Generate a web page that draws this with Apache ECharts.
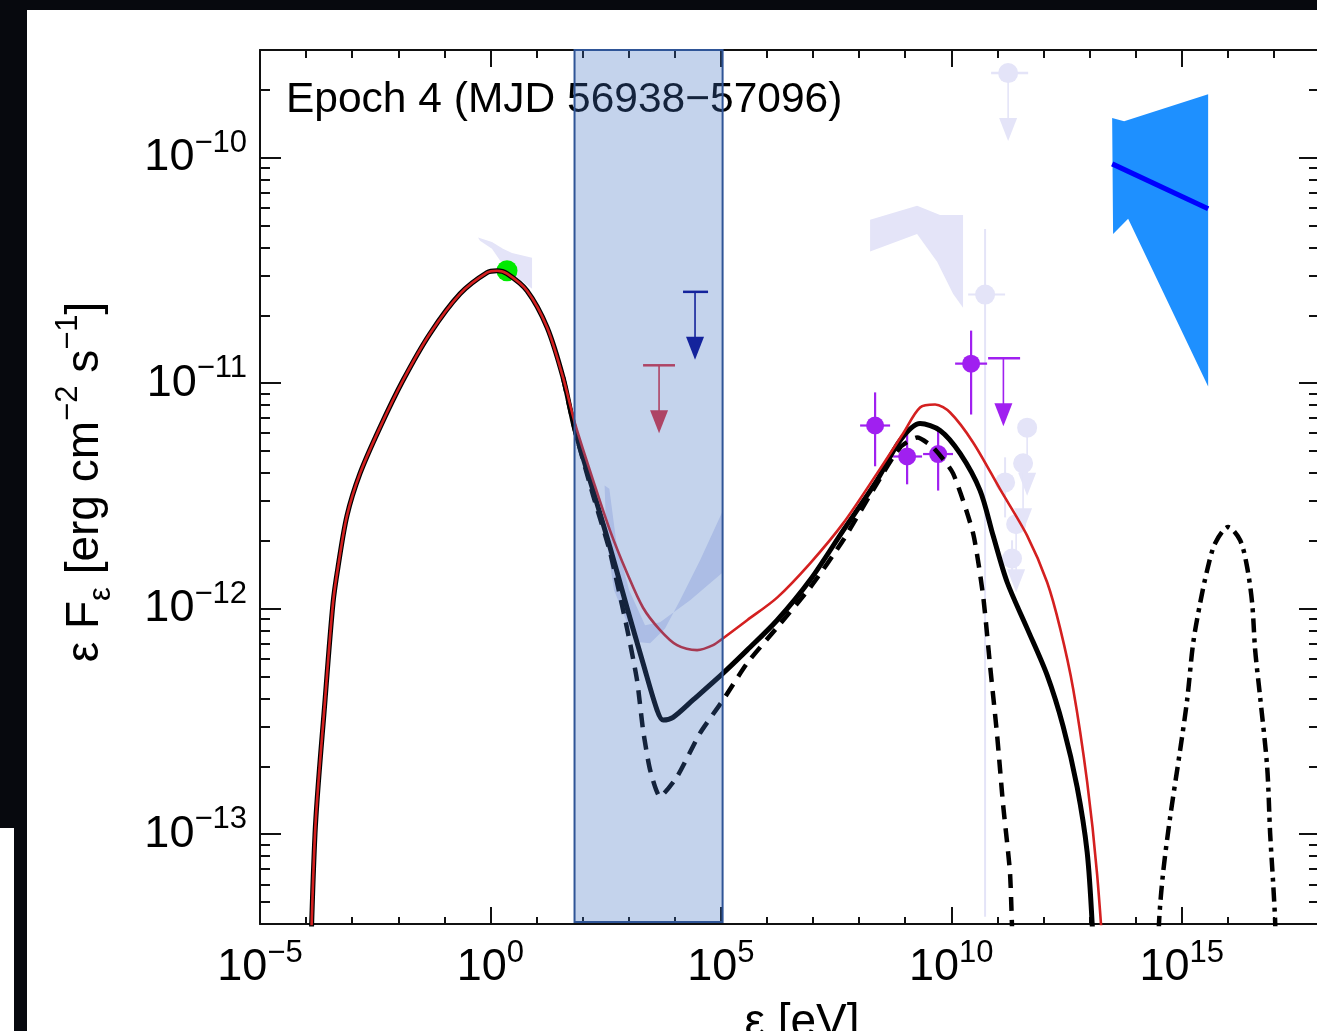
<!DOCTYPE html>
<html>
<head>
<meta charset="utf-8">
<style>
  html, body { margin: 0; padding: 0; background: #fff; }
  #chart { width: 1317px; height: 1031px; }
</style>
<script src="https://cdn.jsdelivr.net/npm/echarts@6/dist/echarts.min.js"></script>
</head>
<body>
<div id="chart"></div>
<script>
var FONT = "'Liberation Sans', Arial, Helvetica, sans-serif";

// energy [eV], flux [erg cm^-2 s^-1]
var solidModel = [
  [1.10e-4, 1.0e-14], [1.56e-4, 1.0e-13], [2.58e-4, 3.94e-13], [3.84e-4, 1.06e-12],
  [4.93e-4, 1.53e-12], [7.73e-4, 2.59e-12], [1.48e-3, 3.98e-12], [4.02e-3, 6.37e-12],
  [1.27e-2, 1.03e-11], [4.89e-2, 1.66e-11], [0.219, 2.49e-11], [0.843, 3.09e-11],
  [1.39, 3.15e-11], [2.29, 3.06e-11], [6.22, 2.57e-11], [16.9, 1.77e-11],
  [37.6, 1.06e-11], [68.5, 6.17e-12], [169, 3.34e-12], [394, 1.87e-12],
  [920, 1.01e-12], [2050, 5.73e-13], [4130, 3.55e-13], [5570, 3.21e-13],
  [9180, 3.30e-13], [2.49e4, 3.94e-13], [1.12e5, 5.18e-13], [3.71e5, 6.55e-13],
  [1.66e6, 8.89e-13], [8.63e6, 1.34e-12], [4.49e7, 2.22e-12], [2.45e8, 3.71e-12],
  [7.74e8, 5.57e-12], [2.10e9, 6.62e-12], [5.71e9, 6.17e-12], [1.55e10, 4.88e-12],
  [4.22e10, 3.34e-12], [8.07e10, 2.11e-12], [1.63e11, 1.31e-12], [4.42e11, 8.18e-13],
  [1.20e12, 5.07e-13], [2.67e12, 3.01e-13], [5.37e12, 1.62e-13], [8.85e12, 8.36e-14],
  [1.14e13, 4.0e-14], [1.32e13, 1.85e-14]
];
var redModel = [
  [1.10e-4, 1.0e-14], [1.56e-4, 1.0e-13], [2.58e-4, 3.94e-13], [3.84e-4, 1.06e-12],
  [4.93e-4, 1.53e-12], [7.73e-4, 2.59e-12], [1.48e-3, 3.98e-12], [4.02e-3, 6.37e-12],
  [1.27e-2, 1.03e-11], [4.89e-2, 1.66e-11], [0.219, 2.49e-11], [0.843, 3.09e-11],
  [1.39, 3.15e-11], [2.29, 3.06e-11], [6.22, 2.57e-11], [16.9, 1.77e-11],
  [37.6, 1.06e-11], [68.5, 6.62e-12], [169, 3.71e-12], [394, 2.22e-12],
  [920, 1.44e-12], [2050, 1.01e-12], [4800, 8.04e-13], [1.12e4, 6.89e-13],
  [3.05e4, 6.55e-13], [6.78e4, 6.89e-13], [1.12e5, 7.40e-13], [3.71e5, 8.89e-13],
  [1.66e6, 1.12e-12], [8.63e6, 1.59e-12], [4.49e7, 2.39e-12], [2.45e8, 3.98e-12],
  [9.0e8, 5.98e-12], [2.10e9, 7.80e-12], [4.45e9, 8.04e-12], [9.42e9, 7.41e-12],
  [2.97e10, 5.46e-12], [1.15e11, 3.38e-12], [4.42e11, 2.11e-12], [1.20e12, 1.31e-12],
  [2.30e12, 8.18e-13], [4.40e12, 4.42e-13], [8.85e12, 1.71e-13], [1.46e13, 6.62e-14],
  [2.29e13, 1.85e-14]
];
var dashedModel = [
  [37.6, 1.06e-11], [68.5, 6.17e-12], [169, 3.18e-12], [394, 1.78e-12],
  [920, 8.18e-13], [1517, 4.82e-13], [2050, 2.90e-13], [2911, 1.93e-13],
  [4800, 1.47e-13], [1.12e4, 1.80e-13], [3.54e4, 2.81e-13], [1.12e5, 3.94e-13],
  [3.71e5, 5.73e-13], [1.66e6, 8.26e-13], [8.63e6, 1.24e-12], [4.49e7, 2.01e-12],
  [2.45e8, 3.60e-12], [7.74e8, 5.19e-12], [1.81e9, 5.74e-12], [4.03e9, 5.19e-12],
  [1.09e10, 3.98e-12], [2.97e10, 2.16e-12], [4.90e10, 1.14e-12], [6.95e10, 5.57e-13],
  [9.86e10, 2.75e-13], [1.33e11, 1.35e-13], [1.89e11, 6.61e-14], [2.29e11, 1.85e-14]
];
var dashDotModel = [
  [3.08e14, 2.78e-14], [3.24e14, 4.18e-14], [3.94e14, 6.75e-14], [5.60e14, 1.19e-13],
  [9.23e14, 2.36e-13], [1.31e15, 3.94e-13], [1.77e15, 7.03e-13], [2.51e15, 1.06e-12],
  [3.56e15, 1.48e-12], [5.31e15, 1.95e-12], [1.02e16, 2.30e-12], [1.85e16, 2.01e-12],
  [2.62e16, 1.53e-12], [3.37e16, 1.06e-12], [3.92e16, 6.55e-13], [5.02e16, 4.06e-13],
  [7.13e16, 1.99e-13], [8.28e16, 1.01e-13], [9.62e16, 6.08e-14], [1.06e17, 4.18e-14],
  [1.12e17, 2.78e-14]
];

// shaded energy band [eV]
var bandRange = [[66.8, 1.09e5, 4e-14, 3e-10]];

// optical point
var greenPoint = [[2.29, 3.15e-11]];
// [E, flux, Elo, Ehi, fluxLo, fluxHi]
var purplePoints = [
  [2.22e8, 6.49e-12, 1.05e8, 4.70e8, 4.28e-12, 9.10e-12],
  [1.10e9, 4.73e-12, 5.46e8, 2.32e9, 3.56e-12, 5.98e-12],
  [5.18e9, 4.85e-12, 2.44e9, 1.09e10, 3.34e-12, 6.35e-12],
  [2.69e10, 1.22e-11, 1.21e10, 5.98e10, 7.26e-12, 1.71e-11]
];
var fadedPoints = [
  [5.41e10, 2.47e-11, 2.32e10, 1.47e11, 4.31e-14, 4.83e-11],
  [1.47e11, 3.63e-12, 1.47e11, 1.47e11, 2.54e-12, 4.69e-12],
  [2.08e11, 1.67e-12, 2.08e11, 2.08e11, 1.41e-12, 2.01e-12]
];
// upper limits [E, flux, Elo, Ehi]
var redLimits = [[4560, 1.20e-11, 2.05e3, 1.01e4]];
var navyLimits = [[2.75e4, 2.54e-11, 1.51e4, 5.27e4]];
var purpleLimits = [[1.35e11, 1.29e-11, 6.29e10, 3.11e11]];
var fadedLimits = [
  [1.71e11, 2.37e-10, 7.31e10, 4.65e11],
  [4.42e11, 6.35e-12, 4.42e11, 4.42e11],
  [3.61e11, 4.41e-12, 3.61e11, 3.61e11],
  [2.55e11, 2.37e-12, 2.55e11, 2.55e11]
];

// shaded regions [E, flux]
var bowtieOptical = [
  [0.538, 4.42e-11], [1.08, 4.23e-11], [1.87, 3.94e-11], [2.94, 3.78e-11], [8.0, 3.60e-11],
  [8.0, 2.62e-11], [3.60, 2.96e-11], [1.87, 3.35e-11], [1.08, 3.94e-11], [0.594, 4.28e-11]
];
var bowtieXray = [
  [300, 3.52e-12], [380, 3.40e-12], [532, 2.01e-12], [1019, 1.21e-12], [2265, 8.45e-13],
  [4797, 8.71e-13], [2.15e4, 1.09e-12], [1.06e5, 1.44e-12], [1.06e5, 2.67e-12],
  [3.54e4, 1.64e-12], [1.30e4, 1.09e-12], [6152, 8.18e-13], [2911, 7.03e-13],
  [1766, 7.10e-13], [968, 8.45e-13], [480, 1.21e-12], [330, 2.01e-12]
];
var bowtieGev = [
  [1.73e8, 5.30e-11], [1.81e9, 6.11e-11], [5.71e9, 5.57e-11], [1.80e10, 5.57e-11],
  [1.80e10, 2.16e-11], [1.09e10, 2.49e-11], [4.92e9, 3.45e-11], [1.81e9, 4.59e-11],
  [1.73e8, 3.83e-11]
];
var bowtieBlue = [
  [3.09e13, 1.50e-10], [5.62e13, 1.45e-10], [3.74e15, 1.91e-10], [3.74e15, 9.66e-12],
  [6.87e13, 5.36e-11], [3.24e13, 4.59e-11]
];
var blueLine = [[3.09e13, 9.38e-11], [3.74e15, 5.93e-11]];

// axis ticks
var xMajorTicks = [1e-5, 1, 1e5, 1e10, 1e15];
var xMinorTicks = [1e-4, 1e-3, 1e-2, 1e-1, 1e1, 1e2, 1e3, 1e4, 1e6, 1e7, 1e8, 1e9,
  1e11, 1e12, 1e13, 1e14, 1e16, 1e17];
var yMajorTicks = [1e-13, 1e-12, 1e-11, 1e-10];
var yMinorTicks = [5e-14, 6e-14, 7e-14, 8e-14, 9e-14,
  2e-13, 3e-13, 4e-13, 5e-13, 6e-13, 7e-13, 8e-13, 9e-13,
  2e-12, 3e-12, 4e-12, 5e-12, 6e-12, 7e-12, 8e-12, 9e-12,
  2e-11, 3e-11, 4e-11, 5e-11, 6e-11, 7e-11, 8e-11, 9e-11,
  2e-10];

var chart = echarts.init(document.getElementById('chart'));

function powLabel(v) {
  var e = Math.round(Math.log10(v));
  return '{b|10}{e|' + (e < 0 ? '\u2212' + (-e) : e) + '}';
}
var powRich = {
  b: { fontSize: 45, fontFamily: FONT, color: '#000', lineHeight: 60 },
  e: { fontSize: 31, fontFamily: FONT, color: '#000', lineHeight: 31, verticalAlign: 'top' }
};
var axisColor = '#111';

function xAxisDef(pos, ticks, len, withLine, withLabel) {
  var ax = {
    type: 'log', logBase: 10, min: 1e-5, max: 1e18, position: pos,
    axisLine: { show: withLine, onZero: false, lineStyle: { color: axisColor, width: 2 } },
    axisTick: { show: true, inside: true, length: len, customValues: ticks, lineStyle: { color: axisColor, width: 2 } },
    axisLabel: { show: false },
    splitLine: { show: false },
    minorTick: { show: false }
  };
  if (withLabel) {
    ax.axisLabel = { show: true, customValues: ticks, formatter: powLabel, margin: 14, rich: powRich };
    ax.name = '\u03b5 [eV]';
    ax.nameLocation = 'middle';
    ax.nameGap = 76;
    ax.nameMoveOverlap = false;
    ax.nameTextStyle = { fontSize: 46, fontFamily: FONT, color: '#000', padding: [0, 0, 0, 24] };
  }
  return ax;
}
function yAxisDef(pos, ticks, len, withLine, withLabel) {
  var ax = {
    type: 'log', logBase: 10, min: 4e-14, max: 3e-10, position: pos,
    axisLine: { show: withLine, onZero: false, lineStyle: { color: axisColor, width: 2 } },
    axisTick: { show: true, inside: true, length: len, customValues: ticks, lineStyle: { color: axisColor, width: 2 } },
    axisLabel: { show: false },
    splitLine: { show: false },
    minorTick: { show: false }
  };
  if (withLabel) {
    ax.axisLabel = { show: true, customValues: ticks, formatter: powLabel, margin: 13, rich: powRich };
    ax.name = '{a|\u03b5 F}{s|\u03b5}{a| [erg cm}{p|\u22122}{a| s}{p|\u22121}{a|]}';
    ax.nameLocation = 'middle';
    ax.nameRotate = 90;
    ax.nameGap = 143;
    ax.nameMoveOverlap = false;
    ax.nameTextStyle = {
      padding: [0, 0, 0, 10],
      rich: {
        a: { fontSize: 46, fontFamily: FONT, color: '#000', lineHeight: 64 },
        s: { fontSize: 31, fontFamily: FONT, color: '#000', lineHeight: 31, verticalAlign: 'bottom' },
        p: { fontSize: 31, fontFamily: FONT, color: '#000', lineHeight: 31, verticalAlign: 'top' }
      }
    };
  }
  return ax;
}

function polygonSeries(points, color, z) {
  return {
    type: 'custom', z: z, silent: true,
    data: [points[0]],
    renderItem: function (params, api) {
      return {
        type: 'polygon',
        shape: { points: points.map(function (p) { return api.coord(p); }) },
        style: { fill: color }
      };
    }
  };
}

function errorBarSeries(data, color, r, w, z) {
  return {
    type: 'custom', z: z, silent: true, data: data,
    encode: { x: [0, 2, 3], y: [1, 4, 5] },
    renderItem: function (params, api) {
      var c = api.coord([api.value(0), api.value(1)]);
      var xl = api.coord([api.value(2), api.value(1)]);
      var xh = api.coord([api.value(3), api.value(1)]);
      var yl = api.coord([api.value(0), api.value(4)]);
      var yh = api.coord([api.value(0), api.value(5)]);
      return {
        type: 'group',
        children: [
          { type: 'line', shape: { x1: xl[0], y1: c[1], x2: xh[0], y2: c[1] }, style: { stroke: color, lineWidth: w } },
          { type: 'line', shape: { x1: c[0], y1: yl[1], x2: c[0], y2: yh[1] }, style: { stroke: color, lineWidth: w } },
          { type: 'circle', shape: { cx: c[0], cy: c[1], r: r }, style: { fill: color } }
        ]
      };
    }
  };
}

function limitSeries(data, color, withDot, z) {
  return {
    type: 'custom', z: z, silent: true, data: data,
    encode: { x: [0, 2, 3], y: 1 },
    renderItem: function (params, api) {
      var c = api.coord([api.value(0), api.value(1)]);
      var xl = api.coord([api.value(2), api.value(1)]);
      var xh = api.coord([api.value(3), api.value(1)]);
      var kids = [
        { type: 'line', shape: { x1: xl[0], y1: c[1], x2: xh[0], y2: c[1] }, style: { stroke: color, lineWidth: 2.5 } },
        { type: 'line', shape: { x1: c[0], y1: c[1], x2: c[0], y2: c[1] + 46 }, style: { stroke: color, lineWidth: 1.6 } },
        { type: 'polygon', shape: { points: [[c[0] - 9, c[1] + 45], [c[0] + 9, c[1] + 45], [c[0], c[1] + 68]] }, style: { fill: color } }
      ];
      if (withDot) {
        kids.push({ type: 'circle', shape: { cx: c[0], cy: c[1], r: 10 }, style: { fill: color } });
      }
      return { type: 'group', children: kids };
    }
  };
}

function lineSeries(data, color, width, type, z, smooth) {
  return {
    type: 'line', data: data, z: z, showSymbol: false, smooth: smooth, silent: true,
    clip: true,
    lineStyle: { color: color, width: width, type: type, cap: 'butt', join: 'round' }
  };
}

var faded = '#e4e4f8';

var option = {
  animation: false,
  backgroundColor: '#fff',
  title: {
    text: 'Epoch 4 (MJD 56938\u221257096)',
    left: 286, top: 79, padding: 0,
    textStyle: { fontSize: 42.5, fontWeight: 'normal', fontFamily: FONT, color: '#000' }
  },
  grid: { left: 260, top: 50, right: -3, bottom: 107, containLabel: false, outerBoundsMode: 'none' },
  xAxis: [
    xAxisDef('bottom', xMajorTicks, 17, true, true),
    xAxisDef('bottom', xMinorTicks, 7, false, false),
    xAxisDef('top', xMajorTicks, 17, true, false),
    xAxisDef('top', xMinorTicks, 8, false, false)
  ],
  yAxis: [
    yAxisDef('left', yMajorTicks, 21, true, true),
    yAxisDef('left', yMinorTicks, 10, false, false),
    yAxisDef('right', yMajorTicks, 21, true, false),
    yAxisDef('right', yMinorTicks, 11, false, false)
  ],
  graphic: [
    { type: 'rect', z: 100, shape: { x: 0, y: 0, width: 1317, height: 10 }, style: { fill: '#07090e' } },
    { type: 'rect', z: 100, shape: { x: 0, y: 10, width: 27, height: 818 }, style: { fill: '#07090e' } },
    { type: 'rect', z: 100, shape: { x: 14, y: 828, width: 13, height: 203 }, style: { fill: '#07090e' } }
  ],
  series: [
    polygonSeries(bowtieOptical, faded, 1),
    polygonSeries(bowtieXray, '#dcdff5', 1),
    polygonSeries(bowtieGev, faded, 1),
    errorBarSeries(fadedPoints, faded, 10, 2, 1),
    limitSeries(fadedLimits, faded, true, 1),
    polygonSeries(bowtieBlue, '#1e90ff', 2),
    {
      type: 'line', data: blueLine, z: 3, showSymbol: false, silent: true,
      lineStyle: { color: '#0000ff', width: 5, cap: 'butt' }
    },
    {
      type: 'scatter', data: greenPoint, z: 2, symbolSize: 21, silent: true,
      itemStyle: { color: '#00ea00', opacity: 1 }
    },
    errorBarSeries(purplePoints, '#a020f0', 9, 2.2, 2),
    limitSeries(purpleLimits, '#a020f0', false, 2),
    limitSeries(redLimits, '#e0303c', false, 2),
    limitSeries(navyLimits, '#00008b', false, 2),
    lineSeries(dashDotModel, '#000', 4.5, [14, 6, 4, 6], 3, 0.3),
    lineSeries(dashedModel, '#000', 4.5, [14, 9], 3, 0.2),
    lineSeries(solidModel, '#000', 5, 'solid', 3, 0.3),
    lineSeries(redModel, '#d42020', 2.6, 'solid', 4, 0.3),
    {
      type: 'custom', z: 10, silent: true, data: bandRange,
      encode: { x: [0, 1], y: [2, 3] },
      renderItem: function (params, api) {
        var p0 = api.coord([api.value(0), api.value(3)]);
        var p1 = api.coord([api.value(1), api.value(2)]);
        return {
          type: 'rect',
          shape: { x: p0[0], y: p0[1], width: p1[0] - p0[0], height: p1[1] - p0[1] - 2 },
          style: { fill: 'rgba(65,114,193,0.31)', stroke: '#2f5597', lineWidth: 2 }
        };
      }
    }
  ]
};
chart.setOption(option);
</script>
</body>
</html>
